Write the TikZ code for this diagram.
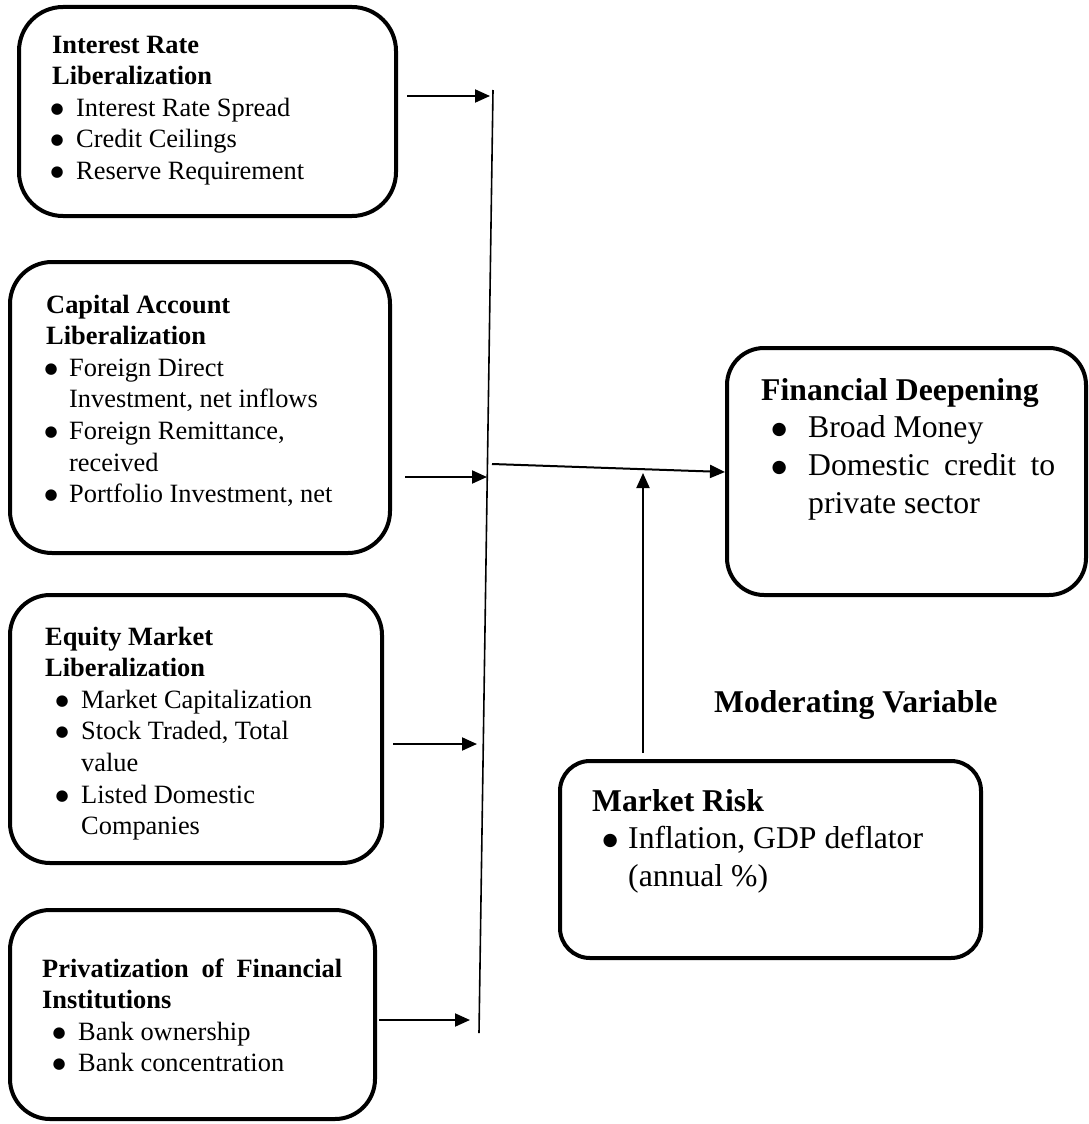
\documentclass[tikz,border=0pt]{standalone}
\usepackage{fontspec}
\setmainfont{Liberation Serif}
\newfontfamily\dejavu{DejaVu Sans}
\usetikzlibrary{arrows.meta,calc}
% bullet centred #1 from the line start, text starting at #2
\newcommand\bulsize{15pt}
\newcommand\bulraise{3pt}
\newcommand\bulit[2]{\rlap{\hspace*{#1}\makebox[0pt][c]{\raisebox{\bulraise}{\dejavu\fontsize{\bulsize}{\bulsize}\selectfont ●}}}\hspace*{#2}}
\begin{document}
\begin{tikzpicture}[x=1pt,y=-1pt,
  box/.style={draw=black,line width=4pt,rectangle,inner sep=0pt},
  txt/.style={inner sep=0pt,anchor=base west,align=left},
  arr/.style={line width=2pt,-{Triangle[length=15pt,width=13pt]}},
  small/.style={font=\fontsize{26.4pt}{31.6pt}\selectfont\renewcommand\bulsize{15pt}\renewcommand\bulraise{3pt}},
  large/.style={font=\fontsize{31.7pt}{37.8pt}\selectfont\renewcommand\bulsize{17.5pt}\renewcommand\bulraise{3.6pt}}]
\useasboundingbox (0,0) rectangle (1089,1124);

% boxes
\node[box,minimum width=377pt,minimum height=209pt,rounded corners=44pt] (ir) at (207.5,111.5) {};
\node[box,minimum width=380pt,minimum height=291pt,rounded corners=42pt] (ca) at (200,407.5) {};
\node[box,minimum width=372pt,minimum height=268pt,rounded corners=40pt] (em) at (196,729) {};
\node[box,minimum width=365pt,minimum height=209pt,rounded corners=40pt] (pf) at (192.5,1014.5) {};
\node[box,minimum width=359pt,minimum height=247pt,rounded corners=37pt] (fd) at (906.5,471.5) {};
\node[box,minimum width=421pt,minimum height=197pt,rounded corners=30pt] (mr) at (770.5,859.5) {};

% texts
\node[txt,small] (irt) at (52,53) {\parbox[t]{360pt}{%
\textbf{Interest Rate}\\
\textbf{Liberalization}\\
\bulit{5pt}{24pt}Interest Rate Spread\\
\bulit{5pt}{24pt}Credit Ceilings\\
\bulit{5pt}{24pt}Reserve Requirement}};

\node[txt,small] (cat) at (46,313) {\parbox[t]{360pt}{%
\textbf{Capital Account}\\
\textbf{Liberalization}\\
\bulit{5pt}{23pt}Foreign Direct\\
\hspace*{23pt}Investment, net inflows\\
\bulit{5pt}{23pt}Foreign Remittance,\\
\hspace*{23pt}received\\
\bulit{5pt}{23pt}Portfolio Investment, net}};

\node[txt,small] (emt) at (45,645) {\parbox[t]{360pt}{%
\textbf{Equity Market}\\
\textbf{Liberalization}\\
\bulit{17pt}{36pt}Market Capitalization\\
\bulit{17pt}{36pt}Stock Traded, Total\\
\hspace*{36pt}value\\
\bulit{17pt}{36pt}Listed Domestic\\
\hspace*{36pt}Companies}};

\node[txt,small] (pft) at (42,977) {\parbox[t]{360pt}{%
\makebox[300pt][s]{\bfseries Privatization of Financial}\\
\textbf{Institutions}\\
\bulit{17pt}{36pt}Bank ownership\\
\bulit{17pt}{36pt}Bank concentration}};

\node[txt,large] (fdt) at (761,400) {\parbox[t]{330pt}{%
\textbf{Financial Deepening}\\
\bulit{18pt}{47pt}Broad Money\\
\bulit{18pt}{47pt}\makebox[247pt][s]{Domestic credit to}\\
\hspace*{47pt}private sector}};

\node[txt,large] (mrt) at (592,811) {\parbox[t]{380pt}{%
\textbf{Market Risk}\\
\bulit{18pt}{36pt}Inflation, GDP deflator\\
\hspace*{36pt}(annual \%)}};

\node[txt,large] (mv) at (714,712) {\textbf{Moderating Variable}};

% collector line
\coordinate (ctop) at (493,90);
\coordinate (cbot) at (479,1033);
\draw[line width=1.6pt] (ctop) -- (cbot);

% input arrows
\coordinate (s1) at (407,96);   \coordinate (e1) at (490,96);
\coordinate (s2) at (405,477);  \coordinate (e2) at (487,477);
\coordinate (s3) at (393,744);  \coordinate (e3) at (477,744);
\coordinate (s4) at (379,1020); \coordinate (e4) at (470,1020);
\draw[arr] (s1) -- (e1);
\draw[arr] (s2) -- (e2);
\draw[arr] (s3) -- (e3);
\draw[arr] (s4) -- (e4);

% main arrow to financial deepening
\coordinate (ms) at (492,464);
\draw[arr] (ms) -- (fd.west |- 0,472);

% moderating arrow
\coordinate (mrtop) at (643,753);
\coordinate (mend) at (643,473);
\draw[arr] (mrtop) -- (mend);
\end{tikzpicture}
\end{document}
